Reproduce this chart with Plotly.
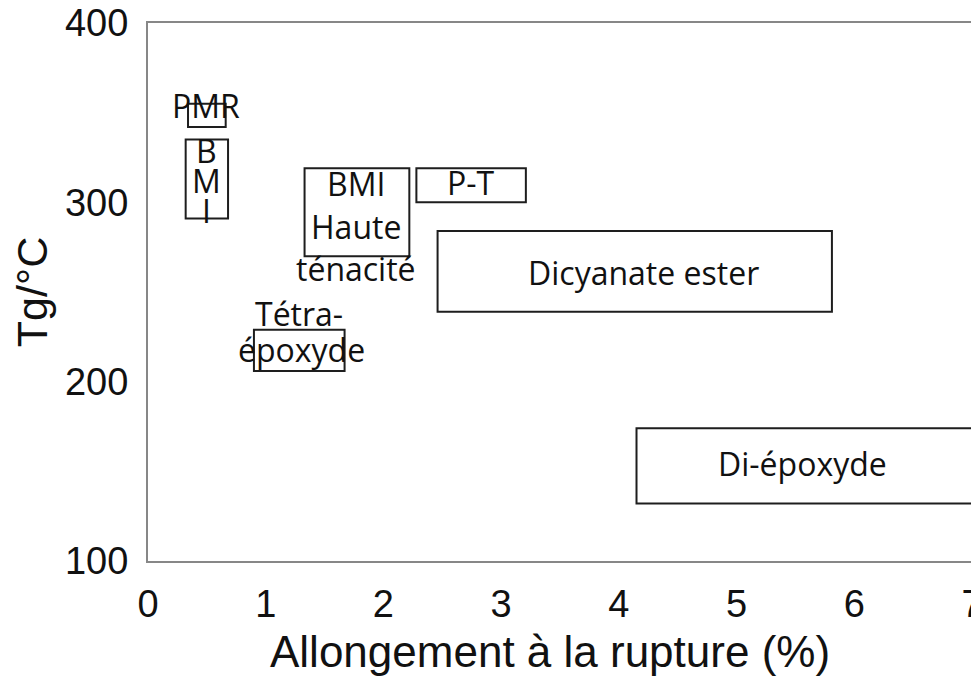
import plotly.graph_objects as go

# Material classes: ranges of elongation at break (%) and Tg (°C)
materials = ["PMR", "BMI", "BMI Haute ténacité", "P-T", "Tétra-époxyde",
             "Dicyanate ester", "Di-époxyde"]
elong_min = [0.34, 0.32, 1.33, 2.28, 0.90, 2.46, 4.15]
elong_max = [0.66, 0.68, 2.22, 3.21, 1.67, 5.81, 7.00]
tg_min = [342, 291, 270, 300, 206, 239, 132]
tg_max = [355, 335, 319, 319, 229, 284, 174]

# Text labels (as written in the chart, one entry per line of text)
label_text = ["PMR", "B", "M", "I", "BMI", "Haute", "ténacité", "P-T",
              "Tétra-", "époxyde", "Dicyanate ester", "Di-époxyde"]
label_x = [0.49, 0.50, 0.50, 0.50, 1.77, 1.77, 1.77, 2.74, 1.28, 1.30, 4.21, 5.56]
label_y = [353.9, 328.8, 312.3, 295.2, 310.7, 286.4, 263.0, 311.2, 238.2, 218.1, 260.8, 154.3]

x_ticks = [0, 1, 2, 3, 4, 5, 6, 7]
y_ticks = [100, 200, 300, 400]

fig = go.Figure()
fig.add_trace(go.Scatter(x=[None], y=[None], mode="markers", showlegend=False,
                         hoverinfo="skip"))

for i in range(len(materials)):
    fig.add_shape(type="rect", xref="x", yref="y",
                  x0=elong_min[i], x1=elong_max[i], y0=tg_min[i], y1=tg_max[i],
                  line=dict(color="#1e1e1e", width=2), fillcolor="rgba(0,0,0,0)",
                  layer="above")

for t, x, y in zip(label_text, label_x, label_y):
    fig.add_annotation(x=x, y=y, xref="x", yref="y", text=t, showarrow=False,
                       xanchor="center", yanchor="middle",
                       font=dict(family="Open Sans", size=32, color="#111111"))

# x axis title (placed slightly left of the plot centre, as in the original)
fig.add_annotation(x=0.488, y=-0.168, xref="paper", yref="paper",
                   text="Allongement à la rupture (%)", showarrow=False,
                   xanchor="center", yanchor="middle",
                   font=dict(family="Liberation Sans, Arial", size=44, color="#111111"))

axis_common = dict(showgrid=False, zeroline=False, showline=True,
                   linecolor="#878787", linewidth=2, mirror=True, ticks="",
                   automargin=False, ticklabeloverflow="allow",
                   tickfont=dict(family="Liberation Sans, Arial", size=38, color="#111111"))

fig.update_xaxes(range=[0, 7], tickvals=x_ticks, ticklabelstandoff=8,
                 **axis_common)
fig.update_yaxes(range=[100, 400], tickvals=y_ticks, ticklabelstandoff=10,
                 title=dict(text="Tg/°C",
                            font=dict(family="Liberation Sans, Arial", size=43, color="#111111"),
                            standoff=13),
                 **axis_common)

fig.update_layout(width=971, height=668,
                  margin=dict(l=140, r=7, t=15, b=115),
                  plot_bgcolor="white", paper_bgcolor="white",
                  showlegend=False)

fig.write_html("out.html")
